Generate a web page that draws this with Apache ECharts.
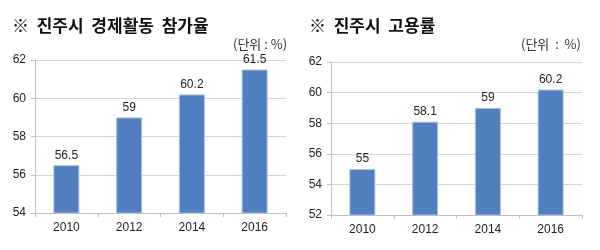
<!DOCTYPE html>
<html><head><meta charset="utf-8">
<script src="https://cdn.jsdelivr.net/npm/echarts@6/dist/echarts.min.js"></script>
<style>html,body{margin:0;padding:0;background:#fff}#c{width:600px;height:250px}</style>
</head><body><div id="c"></div>
<script>
const categories = ['2010','2012','2014','2016'];
const participation = [56.5, 59, 60.2, 61.5];
const employment = [55, 58.1, 59, 60.2];
const leftTicks = {min:54, max:62, interval:2};
const rightTicks = {min:52, max:62, interval:2};
const titleLeft = '※  진주시  경제활동  참가율';
const titleRight = '※  진주시  고용률';
const unitLeft = '(단위 : %)';
const unitRight = '(단위  :  %)';

const chart = echarts.init(document.getElementById('c'));
const font = 'Noto Sans CJK KR';
const axisLabel = {color:'#222', fontSize:12, fontFamily:'Liberation Sans'};
function xAxis(i){
  return {type:'category', gridIndex:i, data:categories,
    axisLine:{lineStyle:{color:'#bfbfbf'}},
    axisTick:{show:true, length:4, lineStyle:{color:'#bfbfbf'}},
    axisLabel:Object.assign({margin:9}, axisLabel)};
}
function yAxis(i,t){
  return {type:'value', gridIndex:i, min:t.min, max:t.max, interval:t.interval,
    axisLine:{show:true, lineStyle:{color:'#bfbfbf'}},
    axisTick:{show:true, length:4, lineStyle:{color:'#bfbfbf'}},
    splitLine:{lineStyle:{color:'#d4d4d4'}},
    axisLabel:Object.assign({margin:9}, axisLabel)};
}
function bar(i,data){
  return {type:'bar', xAxisIndex:i, yAxisIndex:i, data:data, barWidth:26,
    itemStyle:{color:'#4f7fbf', borderColor:'#a9c1e0', borderWidth:1},
    label:{show:true, position:'top', distance:4, color:'#222', fontSize:12, fontFamily:'Liberation Sans'}};
}
chart.setOption({
  animation:false,
  title:[
    {text:titleLeft, left:7, top:12, textStyle:{fontFamily:font, fontSize:17, fontWeight:'bold', color:'#111'}},
    {text:titleRight, left:304, top:12, textStyle:{fontFamily:font, fontSize:17, fontWeight:'bold', color:'#111'}},
    {text:unitLeft, left:228, top:33, textStyle:{fontFamily:font, fontSize:13, fontWeight:'normal', color:'#333'}},
    {text:unitRight, left:516, top:33, textStyle:{fontFamily:font, fontSize:13, fontWeight:'normal', color:'#333'}}
  ],
  grid:[
    {left:35, top:60, width:251, height:153},
    {left:331, top:62, width:251, height:153}
  ],
  xAxis:[xAxis(0), xAxis(1)],
  yAxis:[yAxis(0,leftTicks), yAxis(1,rightTicks)],
  series:[bar(0,participation), bar(1,employment)]
});
</script></body></html>
